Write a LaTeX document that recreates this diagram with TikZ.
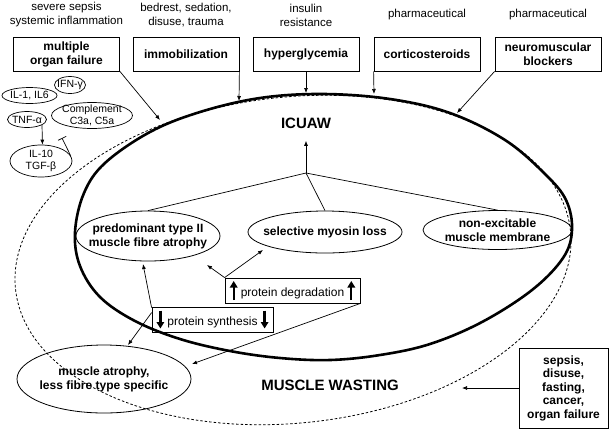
\documentclass[tikz,border=0pt]{standalone}
\usepackage{fontspec}
\setmainfont{Liberation Sans}
\usetikzlibrary{arrows.meta,shapes.geometric}

\newcommand{\fatup}{\tikz[baseline=4pt]\draw[line width=2.4pt,-{Triangle[length=6.5pt,width=7.5pt]}] (0,0) -- (0,19pt);}
\newcommand{\fatdown}{\tikz[baseline=3pt]\draw[line width=2.4pt,-{Triangle[length=6.5pt,width=7.5pt]}] (0,18pt) -- (0,0);}

\tikzset{
  cause/.style={draw, line width=0.8pt, minimum width=106pt, minimum height=34pt, inner sep=2pt, align=center, font=\bfseries\fontsize{12}{14}\selectfont},
  origin/.style={align=center, font=\fontsize{11.5}{14}\selectfont},
  oval/.style={draw, ellipse, line width=0.8pt, inner sep=0pt},
  ovaltext/.style={align=center, font=\bfseries\fontsize{12}{14}\selectfont},
  cyto/.style={draw, ellipse, line width=0.7pt, inner sep=0pt},
  cytotext/.style={align=center, font=\fontsize{10.5}{12.5}\selectfont},
  protbox/.style={draw, line width=0.8pt, inner sep=1pt, minimum height=25pt, font=\fontsize{12}{14}\selectfont},
  bigtitle/.style={font=\bfseries\fontsize{15}{18}\selectfont},
  arr/.style={line width=0.7pt, -{Latex[length=5pt,width=4pt]}},
  link/.style={line width=0.7pt},
  inhib/.style={line width=0.7pt, -{Bar[width=9pt]}},
  iculine/.style={line width=2.6pt},
  wasteline/.style={line width=0.8pt, dash pattern=on 2.5pt off 2pt}
}

\begin{document}
\begin{tikzpicture}[x=1pt,y=1pt]
\useasboundingbox (0,0) rectangle (609,-429);

\draw[wasteline, rotate around={6:(293,-260)}] (293,-260) ellipse [x radius=279, y radius=163];
\draw[iculine] plot[smooth cycle, tension=0.6] coordinates {(323,-94) (390,-99) (450,-113) (505,-140) (545,-174) (566,-200) (572,-230) (563,-258) (532,-290) (482,-322) (430,-344) (380,-355) (330,-360) (280,-358) (230,-351) (180,-339) (135,-321) (100,-297) (80,-266) (75,-232) (84,-193) (105,-163) (150,-132) (200,-112) (260,-98)};

\node[origin] (sirs) at (66.5,-15) {severe sepsis\\systemic inflammation};
\node[origin] (bedrest) at (186,-15) {bedrest, sedation,\\disuse, trauma};
\node[origin] (insulin) at (306,-15) {insulin\\resistance};
\node[origin] (pharma1) at (427,-15) {pharmaceutical};
\node[origin] (pharma2) at (548,-15) {pharmaceutical};

\node[cause] (organ) at (66.5,-54) {multiple\\organ failure};
\node[cause] (immob) at (186,-54) {immobilization};
\node[cause] (hyper) at (306,-54) {hyperglycemia};
\node[cause] (cortico) at (427,-54) {corticosteroids};
\node[cause] (nmb) at (548,-54) {neuromuscular\\blockers};

\node[cyto, minimum width=31pt, minimum height=17pt, label={[cytotext]center:IFN-γ}] (ifn) at (70,-85) {};
\node[cyto, minimum width=55pt, minimum height=16pt, label={[cytotext]center:{IL-1, IL6}}] (il1) at (29.5,-95.5) {};
\node[cyto, minimum width=39pt, minimum height=16pt, label={[cytotext]center:TNF-α}] (tnf) at (27,-119.5) {};
\node[cyto, minimum width=81pt, minimum height=26pt, label={[cytotext]center:{Complement\\C3a, C5a}}] (compl) at (92,-115.5) {};
\node[cyto, minimum width=62pt, minimum height=32pt, label={[cytotext]center:{IL-10\\TGF-β}}] (il10) at (41,-161) {};

\node[bigtitle] (icu) at (306,-123) {ICUAW};
\node[bigtitle] (wasting) at (330,-385) {MUSCLE WASTING};

\node[oval, minimum width=144pt, minimum height=50pt, label={[ovaltext]center:{predominant type II\\muscle fibre atrophy}}] (pred) at (148,-236) {};
\node[oval, minimum width=154pt, minimum height=42pt, label={[ovaltext]center:selective myosin loss}] (myo) at (325,-232) {};
\node[oval, minimum width=149pt, minimum height=39pt, label={[ovaltext]center:{non-excitable\\muscle membrane}}] (memb) at (497.5,-230) {};
\node[oval, minimum width=174pt, minimum height=68pt, label={[ovaltext]center:{muscle atrophy,\\less fibre type specific}}] (atr) at (104,-379) {};

\node[protbox, minimum width=135pt] (degr) at (292.5,-290.5) {\fatup\ protein degradation \fatup};
\node[protbox, minimum width=121pt] (synth) at (212.5,-319.5) {\fatdown\ protein synthesis \fatdown};

\node[cause, minimum width=89pt, minimum height=80pt, font=\bfseries\fontsize{12}{13.5}\selectfont] (other) at (563.5,-388) {sepsis,\\disuse,\\fasting,\\cancer,\\organ failure};

\coordinate (junc) at (306,-173);
\coordinate (hit-organ) at (160,-120);
\coordinate (hit-immob) at (239,-101);
\coordinate (hit-hyper) at (306,-93);
\coordinate (hit-cortico) at (374,-94);
\coordinate (hit-nmb) at (457,-113);
\coordinate (pred-r) at (207,-265);
\coordinate (pred-b) at (143,-264);
\coordinate (myo-l) at (263,-250);
\coordinate (atr-r) at (192,-364);
\coordinate (atr-t) at (128,-345);
\coordinate (inh) at (62,-138);
\coordinate (waste-r) at (462,-388);

\draw[arr] (organ.south east) -- (hit-organ);
\draw[arr] (immob.south east) -- (hit-immob);
\draw[arr] (hyper.south) -- (hit-hyper);
\draw[arr] (cortico.south west) -- (hit-cortico);
\draw[arr] (nmb.south west) -- (hit-nmb);

\draw[link] (junc) -- (pred.north);
\draw[link] (junc) -- (myo.north);
\draw[link] (junc) -- (memb.north);
\draw[arr] (junc) -- ([yshift=-9pt]icu.south);

\draw[arr] (degr.north west) -- (pred-r);
\draw[arr] (degr.north west) -- (myo-l);
\draw[arr] (degr.south east) -- (atr-r);
\draw[arr] ([yshift=-1pt]synth.north west) -- (pred-b);
\draw[arr] ([yshift=-6pt]synth.north west) -- (atr-t);

\draw[arr] (tnf.-20) -- (il10.85);
\draw[inhib] (il10.10) -- (inh);

\draw[arr] (other.west) -- (waste-r);
\end{tikzpicture}
\end{document}
